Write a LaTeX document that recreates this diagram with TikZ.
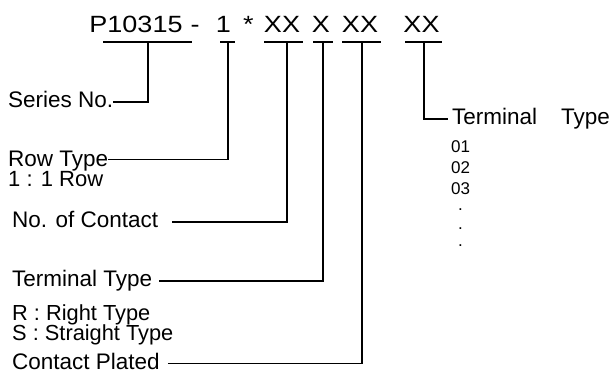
\documentclass[tikz,border=0pt]{standalone}
\usepackage{fontspec}
\setmainfont{Liberation Sans}
\newcommand\wtxt[1]{\scalebox{1.15}[1]{#1}}
\begin{document}
\begin{tikzpicture}[x=1pt,y=-1pt,
  lbl/.style={anchor=base west, inner sep=0pt, font=\fontsize{22.5}{24}\selectfont, text height=16.5pt, text depth=4.5pt},
  plain/.style={anchor=base west, inner sep=0pt, font=\fontsize{22}{24}\selectfont},
  ttl/.style={anchor=base, inner sep=0pt, font=\fontsize{23.5}{25}\selectfont},
  num/.style={anchor=base west, inner sep=0pt, font=\fontsize{17}{17}\selectfont},
  ln/.style={line width=1.3pt}]
\useasboundingbox (0,0) rectangle (614,374);
% title pieces
\node[ttl] (p) at (136,33) {\wtxt{P10315}};
\node[ttl] (dash) at (195,33) {\wtxt{-}};
\node[ttl] (one) at (223.5,33) {\wtxt{1}};
\node[ttl] (star) at (248.5,33) {\wtxt{*}};
\node[ttl] (xa) at (282,33) {\wtxt{XX}};
\node[ttl] (xb) at (321,33) {\wtxt{X}};
\node[ttl] (xc) at (360,33) {\wtxt{XX}};
\node[ttl] (xd) at (421.5,33) {\wtxt{XX}};
% underlines
\coordinate (pl) at (103,42); \coordinate (pr) at (192,42); \coordinate (pm) at (148,42);
\coordinate (ol) at (220,42); \coordinate (or) at (235,42); \coordinate (om) at (228,42);
\coordinate (al) at (264,42); \coordinate (ar) at (303,42); \coordinate (am) at (287,42);
\coordinate (bl) at (313,42); \coordinate (br) at (333,42); \coordinate (bm) at (323,42);
\coordinate (cl) at (342,42); \coordinate (cr) at (381,42); \coordinate (cm) at (362,42);
\coordinate (dl) at (405,42); \coordinate (dr) at (442,42); \coordinate (dm) at (424,42);
\draw[ln] (pl) -- (pr);
\draw[ln] (ol) -- (or);
\draw[ln] (al) -- (ar);
\draw[ln] (bl) -- (br);
\draw[ln] (cl) -- (cr);
\draw[ln] (dl) -- (dr);
% labels
\node[lbl] (ser) at (8,108) {Series No.};
\node[lbl, text depth=0pt] (row) at (8,167) {Row Type};
\node[plain] (row1) at (8,187) {1 : 1 Row};
\node[lbl] (noc) at (12,228) {No. of Contact};
\node[lbl] (term) at (12,287) {Terminal Type};
\node[plain, font=\fontsize{21.8}{24}\selectfont] (rt) at (12,320.5) {R : Right Type};
\node[plain, font=\fontsize{21.8}{24}\selectfont] (st) at (12,341) {S : Straight Type};
\node[lbl, text depth=0pt] (cp) at (12,370) {Contact Plated};
\node[lbl] (trt) at (452,125) {Terminal\hspace{24pt}Type};
\node[num] (n1) at (451,153) {01};
\node[num] (n2) at (451,174) {02};
\node[num] (n3) at (451,195) {03};
\node[num] (d1) at (458,211) {.};
\node[num] (d2) at (458,230) {.};
\node[num] (d3) at (458,247) {.};
% connectors
\draw[ln] (ser.east) -| (pm);
\draw[ln] ([yshift=-1pt]row.east) -| (om);
\draw[ln] ([xshift=14pt]noc.east) -| (am);
\draw[ln] ([xshift=7pt]term.east) -| (bm);
\draw[ln] ([xshift=8pt,yshift=-2pt]cp.east) -| (cm);
\draw[ln] (dm) |- ([xshift=-4pt]trt.west);
\end{tikzpicture}
\end{document}
